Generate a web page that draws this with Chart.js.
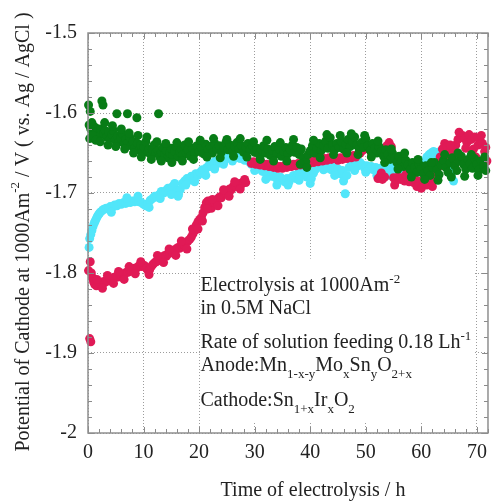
<!DOCTYPE html>
<html>
<head>
<meta charset="utf-8">
<script src="https://cdn.jsdelivr.net/npm/chart.js@4.4.1/dist/chart.umd.min.js"></script>
<style>
  html, body { margin: 0; padding: 0; background: #fff; }
  #wrap { width: 495px; height: 504px; }
</style>
</head>
<body>
<div id="wrap"><canvas id="cathode"></canvas></div>
<script>
// time (h) and potential (V vs Ag/AgCl)
const greenTime = [0.1,0.2,0.4,0.5,0.7,0.9,1.1,1.3,1.5,1.7,2.0,2.3,2.5,2.7,2.8,3.1,3.4,3.7,4.0,4.3,4.6,4.9,5.2,5.3,5.6,5.9,6.2,6.5,6.8,7.1,7.2,7.5,7.8,8.1,8.4,8.8,8.9,9.2,9.5,9.8,10.1,10.4,10.7,11.0,11.3,11.6,11.9,12.2,12.6,12.7,12.9,13.2,13.5,13.8,14.1,14.4,14.7,15.0,15.3,15.6,15.9,16.2,16.5,16.8,17.1,17.4,17.7,18.0,18.4,18.8,19.2,19.6,20.0,20.4,20.8,21.2,21.6,22.0,22.4,22.8,23.2,23.6,24.0,24.4,24.8,25.2,25.6,26.0,26.4,26.8,27.2,27.6,28.0,28.4,28.8,29.2,29.6,30.0,30.4,30.8,31.2,31.6,32.0,32.4,32.8,33.2,33.6,34.0,34.4,34.8,35.2,35.6,36.0,36.4,36.8,37.2,37.6,38.0,38.4,38.8,39.2,39.6,40.0,40.4,40.8,41.2,41.6,42.0,42.4,42.8,43.2,43.6,44.0,44.4,44.8,45.2,45.6,46.0,46.4,46.8,47.2,47.6,48.0,48.4,48.8,49.2,49.6,50.0,50.4,50.8,51.2,51.6,52.0,52.4,52.8,53.2,53.6,54.0,54.4,54.8,55.2,55.6,56.0,56.4,56.8,57.2,57.6,58.0,58.4,58.8,59.2,59.6,60.0,60.4,60.8,61.2,61.6,62.0,62.4,62.8,63.2,63.6,64.0,64.4,64.8,65.2,65.6,66.0,66.4,66.8,67.2,67.6,68.0,68.4,68.8,69.2,69.6,70.0,70.4,70.8,71.2,71.6];
const greenPotential = [-1.590,-1.615,-1.598,-1.620,-1.612,-1.622,-1.617,-1.625,-1.619,-1.623,-1.628,-1.620,-1.585,-1.590,-1.626,-1.622,-1.630,-1.624,-1.632,-1.627,-1.622,-1.634,-1.601,-1.629,-1.636,-1.631,-1.626,-1.638,-1.633,-1.601,-1.637,-1.630,-1.641,-1.636,-1.644,-1.606,-1.638,-1.646,-1.640,-1.648,-1.643,-1.636,-1.649,-1.645,-1.652,-1.646,-1.640,-1.650,-1.647,-1.601,-1.655,-1.649,-1.643,-1.652,-1.647,-1.656,-1.650,-1.644,-1.653,-1.648,-1.642,-1.655,-1.649,-1.645,-1.652,-1.640,-1.650,-1.646,-1.654,-1.644,-1.650,-1.641,-1.648,-1.643,-1.651,-1.639,-1.646,-1.642,-1.650,-1.638,-1.645,-1.641,-1.649,-1.643,-1.637,-1.646,-1.640,-1.648,-1.642,-1.637,-1.645,-1.641,-1.649,-1.643,-1.638,-1.646,-1.641,-1.649,-1.644,-1.652,-1.646,-1.641,-1.650,-1.645,-1.653,-1.647,-1.642,-1.651,-1.645,-1.654,-1.648,-1.643,-1.651,-1.646,-1.640,-1.649,-1.643,-1.652,-1.645,-1.656,-1.661,-1.652,-1.647,-1.641,-1.650,-1.644,-1.638,-1.647,-1.641,-1.635,-1.644,-1.631,-1.640,-1.646,-1.638,-1.643,-1.636,-1.645,-1.639,-1.633,-1.642,-1.636,-1.630,-1.640,-1.645,-1.637,-1.643,-1.632,-1.641,-1.647,-1.638,-1.644,-1.650,-1.642,-1.648,-1.654,-1.646,-1.652,-1.658,-1.650,-1.656,-1.662,-1.654,-1.661,-1.667,-1.659,-1.665,-1.671,-1.662,-1.668,-1.674,-1.664,-1.670,-1.676,-1.666,-1.672,-1.678,-1.668,-1.662,-1.671,-1.677,-1.665,-1.659,-1.668,-1.674,-1.662,-1.656,-1.666,-1.672,-1.660,-1.654,-1.664,-1.670,-1.658,-1.663,-1.669,-1.657,-1.664,-1.671,-1.660,-1.666,-1.672];
// points at the edges of the green band
const greenSpreadTime = [0.3,0.8,1.4,2.2,3.0,3.6,4.4,5.0,6.0,6.6,7.4,8.2,9.0,9.6,10.6,11.4,12.4,13.2,14.0,15.1,16.0,17.0,18.1,19.0,20.2,21.4,22.6,23.8,25.0,26.2,27.4,28.6,29.8,31.0,32.2,33.4,34.6,35.8,37.0,38.2,39.4,40.6,41.8,43.0,44.2,45.4,46.6,47.4,48.6,49.8,51.0,52.2,53.4,54.6,55.8,57.0,58.2,59.4,60.6,61.8,63.0,64.2,65.4,66.6,67.8,69.0,70.2,71.4];
const greenSpreadPotential = [-1.632,-1.628,-1.634,-1.636,-1.612,-1.640,-1.616,-1.642,-1.620,-1.645,-1.625,-1.650,-1.628,-1.655,-1.630,-1.658,-1.636,-1.660,-1.638,-1.662,-1.637,-1.660,-1.636,-1.658,-1.634,-1.655,-1.632,-1.656,-1.633,-1.654,-1.632,-1.655,-1.636,-1.658,-1.634,-1.660,-1.637,-1.660,-1.633,-1.664,-1.668,-1.634,-1.656,-1.627,-1.652,-1.628,-1.650,-1.626,-1.652,-1.628,-1.655,-1.635,-1.662,-1.645,-1.670,-1.650,-1.680,-1.658,-1.683,-1.662,-1.684,-1.652,-1.680,-1.650,-1.679,-1.652,-1.678,-1.655];

const cyanTime = [0.2,0.3,0.5,0.7,0.9,1.1,1.3,1.5,1.7,1.9,2.1,2.4,2.7,3.0,3.3,3.7,4.0,4.4,4.8,5.2,5.6,6.0,6.4,6.8,7.2,7.6,8.0,8.4,8.8,9.2,9.6,10.0,10.4,10.8,11.2,11.6,12.0,12.4,12.8,13.2,13.6,14.0,14.4,14.8,15.2,15.6,16.0,16.3,16.6,17.0,17.4,17.8,18.2,18.6,19.0,19.4,19.8,20.2,20.6,21.0,21.4,21.8,22.2,22.6,23.0,23.4,23.8,24.2,24.6,25.0,25.4,25.8,26.2,26.6,27.0,27.4,27.8,28.2,28.6,29.0,29.4,29.8,30.2,30.6,31.0,31.4,31.8,32.2,32.6,33.0,33.4,33.8,34.2,34.6,35.0,35.4,35.8,36.2,36.6,37.0,37.4,37.8,38.2,38.6,39.0,39.4,39.8,40.2,40.6,41.0,41.4,41.8,42.2,42.6,43.0,43.4,43.8,44.2,44.6,45.0,45.4,45.8,46.0,46.3,46.6,47.0,47.4,47.8,48.2,48.6,49.0,49.4,49.8,50.2,50.6,51.0,51.4,51.8,52.2,52.6,53.0,53.4,53.8,54.2,54.6,55.0,55.4,55.8,56.2,56.6,57.0,57.4,57.8,58.2,58.6,59.0,59.4,59.8,60.2,60.6,61.0,61.4,61.8,62.2,62.6,63.0,63.4,63.8,64.2,64.6,65.0,65.4,65.8];
const cyanPotential = [-1.768,-1.757,-1.752,-1.747,-1.742,-1.738,-1.735,-1.732,-1.729,-1.727,-1.725,-1.723,-1.721,-1.720,-1.719,-1.720,-1.717,-1.718,-1.715,-1.716,-1.713,-1.714,-1.712,-1.713,-1.711,-1.712,-1.710,-1.711,-1.709,-1.711,-1.712,-1.714,-1.716,-1.713,-1.709,-1.707,-1.704,-1.705,-1.702,-1.698,-1.700,-1.697,-1.694,-1.697,-1.692,-1.688,-1.697,-1.702,-1.696,-1.688,-1.685,-1.682,-1.684,-1.679,-1.681,-1.676,-1.678,-1.674,-1.671,-1.673,-1.668,-1.665,-1.667,-1.662,-1.660,-1.663,-1.658,-1.656,-1.659,-1.655,-1.653,-1.656,-1.652,-1.655,-1.653,-1.657,-1.655,-1.659,-1.657,-1.661,-1.664,-1.662,-1.667,-1.665,-1.670,-1.673,-1.671,-1.676,-1.674,-1.679,-1.677,-1.681,-1.684,-1.680,-1.683,-1.686,-1.682,-1.686,-1.681,-1.678,-1.682,-1.676,-1.679,-1.673,-1.676,-1.680,-1.677,-1.682,-1.675,-1.670,-1.666,-1.662,-1.660,-1.665,-1.669,-1.666,-1.671,-1.668,-1.673,-1.670,-1.676,-1.672,-1.685,-1.701,-1.678,-1.668,-1.664,-1.667,-1.663,-1.666,-1.662,-1.665,-1.669,-1.666,-1.670,-1.667,-1.671,-1.668,-1.672,-1.669,-1.673,-1.670,-1.674,-1.671,-1.668,-1.672,-1.669,-1.673,-1.670,-1.667,-1.671,-1.668,-1.672,-1.669,-1.673,-1.670,-1.674,-1.671,-1.666,-1.660,-1.655,-1.652,-1.650,-1.648,-1.651,-1.649,-1.653,-1.651,-1.656,-1.662,-1.670,-1.679,-1.685];
const cyanSpreadTime = [4.2,7.0,9.0,11.0,13.0,15.0,16.2,17.6,19.2,21.2,22.8,24.4,26.0,30.0,32.0,34.0,36.0,38.0,40.0,42.4,44.4,48.0,50.0,52.0,54.0,56.0,58.0,62.4,63.2];
const cyanSpreadPotential = [-1.724,-1.706,-1.704,-1.718,-1.707,-1.702,-1.704,-1.690,-1.686,-1.678,-1.670,-1.664,-1.660,-1.672,-1.683,-1.690,-1.690,-1.684,-1.688,-1.671,-1.678,-1.672,-1.674,-1.678,-1.678,-1.677,-1.677,-1.656,-1.658];

const redTime = [0.1,0.3,0.4,0.5,0.6,0.8,1.0,1.2,1.5,1.8,2.1,2.4,2.7,3.0,3.3,3.6,3.9,4.2,4.5,4.8,5.1,5.4,5.7,6.0,6.3,6.6,6.9,7.2,7.5,7.8,8.1,8.4,8.7,9.0,9.3,9.6,9.9,10.2,10.5,10.8,11.1,11.4,11.7,12.0,12.3,12.6,12.9,13.2,13.5,13.8,14.1,14.4,14.7,15.0,15.3,15.6,15.9,16.2,16.5,16.8,17.1,17.4,17.7,18.0,18.3,18.6,18.9,19.2,19.5,19.8,20.1,20.4,20.7,21.0,21.3,21.6,21.9,22.2,22.5,22.8,23.1,23.4,23.7,24.0,24.3,24.6,24.9,25.2,25.5,25.8,26.1,26.4,26.7,27.0,27.3,27.6,28.0,28.4,29.4,29.8,30.2,30.6,31.0,31.4,31.8,32.2,32.6,33.0,33.4,33.8,34.2,34.6,35.0,35.4,35.8,36.2,36.6,37.0,37.4,37.8,38.2,38.6,39.0,39.4,39.8,40.2,40.6,41.0,41.4,41.8,42.2,42.6,43.0,43.4,43.8,44.2,44.6,45.0,45.4,45.8,46.2,46.6,47.0,47.4,47.8,48.2,48.6,49.0,49.4,49.8,50.2,50.6,51.0,51.4,51.8,52.2,52.6,53.0,53.4,53.8,54.2,54.6,55.0,55.4,55.8,56.2,56.6,57.0,57.4,57.8,58.2,58.6,59.0,59.4,59.8,60.2,60.6,61.0,61.4,61.8,62.2,62.6,63.0,63.4,63.8,64.2,64.6,65.0,65.4,65.8,66.2,66.6,67.0,67.4,67.8,68.2,68.6,69.0,69.4,69.8,70.2,70.6,71.0,71.4,71.8];
const redPotential = [-1.797,-1.882,-1.786,-1.886,-1.800,-1.806,-1.811,-1.814,-1.816,-1.815,-1.813,-1.814,-1.811,-1.812,-1.809,-1.810,-1.807,-1.808,-1.806,-1.806,-1.804,-1.805,-1.802,-1.803,-1.801,-1.801,-1.799,-1.799,-1.797,-1.797,-1.795,-1.794,-1.794,-1.792,-1.791,-1.792,-1.790,-1.791,-1.794,-1.797,-1.796,-1.792,-1.789,-1.787,-1.786,-1.783,-1.784,-1.781,-1.780,-1.778,-1.779,-1.776,-1.775,-1.773,-1.774,-1.771,-1.770,-1.768,-1.769,-1.766,-1.764,-1.765,-1.762,-1.760,-1.758,-1.755,-1.751,-1.747,-1.740,-1.736,-1.733,-1.731,-1.725,-1.718,-1.712,-1.710,-1.714,-1.719,-1.716,-1.712,-1.710,-1.707,-1.705,-1.706,-1.702,-1.700,-1.701,-1.697,-1.695,-1.696,-1.692,-1.691,-1.692,-1.689,-1.688,-1.689,-1.686,-1.687,-1.663,-1.661,-1.664,-1.662,-1.665,-1.663,-1.666,-1.664,-1.667,-1.665,-1.668,-1.666,-1.669,-1.667,-1.669,-1.666,-1.668,-1.665,-1.667,-1.664,-1.666,-1.663,-1.665,-1.662,-1.664,-1.661,-1.663,-1.660,-1.662,-1.659,-1.661,-1.658,-1.660,-1.657,-1.659,-1.656,-1.658,-1.655,-1.657,-1.659,-1.656,-1.658,-1.655,-1.657,-1.654,-1.656,-1.653,-1.655,-1.652,-1.650,-1.647,-1.644,-1.640,-1.645,-1.650,-1.645,-1.639,-1.682,-1.679,-1.683,-1.680,-1.641,-1.637,-1.642,-1.681,-1.684,-1.680,-1.683,-1.681,-1.685,-1.682,-1.686,-1.683,-1.687,-1.684,-1.688,-1.685,-1.689,-1.686,-1.690,-1.687,-1.684,-1.680,-1.676,-1.668,-1.655,-1.645,-1.638,-1.642,-1.650,-1.657,-1.648,-1.640,-1.633,-1.630,-1.628,-1.632,-1.637,-1.627,-1.633,-1.645,-1.655,-1.640,-1.635,-1.638,-1.648,-1.660];
const redSpreadTime = [1.6,2.6,3.5,4.6,5.5,6.5,7.4,8.5,9.5,11.0,12.5,13.6,14.6,15.8,16.8,17.8,18.8,19.8,20.6,21.5,22.4,23.4,24.4,25.4,26.4,27.4,28.2,52.8,55.2,57.2,59.2,60.0,61.2,62.0,63.6,65.2,66.8,68.0,69.6,70.8,71.6];
const redSpreadPotential = [-1.808,-1.819,-1.803,-1.813,-1.798,-1.808,-1.792,-1.801,-1.786,-1.802,-1.778,-1.787,-1.770,-1.778,-1.760,-1.770,-1.745,-1.745,-1.735,-1.720,-1.708,-1.716,-1.696,-1.704,-1.686,-1.695,-1.683,-1.675,-1.690,-1.677,-1.692,-1.694,-1.680,-1.692,-1.664,-1.640,-1.624,-1.644,-1.630,-1.628,-1.643];

const xTicks = [0, 10, 20, 30, 40, 50, 60, 70];
const yTicks = [-2, -1.9, -1.8, -1.7, -1.6, -1.5];

const serif = '"Liberation Serif", "Times New Roman", serif';
const textCol = '#222';

function pts(t, v) { return t.map((x, i) => ({ x: x, y: v[i] })); }

function richText(ctx, x, y, parts, size) {
  for (const [txt, mode] of parts) {
    const fs = mode === 'n' ? size : Math.round(size * 0.66);
    ctx.font = fs + 'px ' + serif;
    let dy = 0;
    if (mode === 'sub') dy = size * 0.36;
    if (mode === 'sup') dy = -size * 0.4;
    ctx.fillText(txt, x, y + dy);
    x += ctx.measureText(txt).width;
  }
}
function richWidth(ctx, parts, size) {
  let w = 0;
  for (const [txt, mode] of parts) {
    const fs = mode === 'n' ? size : Math.round(size * 0.66);
    ctx.font = fs + 'px ' + serif;
    w += ctx.measureText(txt).width;
  }
  return w;
}

const frame = {
  id: 'frame',
  beforeDatasetsDraw(chart) {
    const ctx = chart.ctx, xs = chart.scales.x, ys = chart.scales.y;
    // box with the test conditions
    const bx0 = xs.getPixelForValue(20.15), bx1 = xs.getPixelForValue(69.6);
    const by0 = ys.getPixelForValue(-1.782), by1 = ys.getPixelForValue(-1.985);
    ctx.save();
    ctx.fillStyle = '#fff';
    ctx.fillRect(bx0, by0, bx1 - bx0, by1 - by0);
    ctx.fillStyle = textCol;
    ctx.textBaseline = 'alphabetic';
    ctx.textAlign = 'left';
    const tx = bx0 + 0.5, fs = 20;
    richText(ctx, tx, by0 + 32, [['Electrolysis at 1000Am', 'n'], ['-2', 'sup']], fs);
    richText(ctx, tx, by0 + 55, [['in 0.5M NaCl', 'n']], fs);
    richText(ctx, tx, by0 + 89, [['Rate of solution feeding 0.18 Lh', 'n'], ['-1', 'sup']], fs);
    richText(ctx, tx, by0 + 112, [['Anode:Mn', 'n'], ['1-x-y', 'sub'], ['Mo', 'n'], ['x', 'sub'], ['Sn', 'n'], ['y', 'sub'], ['O', 'n'], ['2+x', 'sub']], fs);
    richText(ctx, tx, by0 + 147, [['Cathode:Sn', 'n'], ['1+x', 'sub'], ['Ir', 'n'], ['x', 'sub'], ['O', 'n'], ['2', 'sub']], fs);
    ctx.restore();
  },
  afterDraw(chart) {
    const ctx = chart.ctx, a = chart.chartArea, xs = chart.scales.x, ys = chart.scales.y;
    ctx.save();
    // inside tick marks on all four sides
    ctx.strokeStyle = '#8a8a8a';
    ctx.lineWidth = 1;
    ctx.beginPath();
    for (let v = 0; v <= 72; v += 2) {
      const px = Math.round(xs.getPixelForValue(v)) + 0.5;
      const len = v % 10 === 0 ? 6 : 4;
      ctx.moveTo(px, a.bottom); ctx.lineTo(px, a.bottom - len);
      ctx.moveTo(px, a.top); ctx.lineTo(px, a.top + len);
    }
    for (let k = 0; k <= 25; k++) {
      const py = Math.round(ys.getPixelForValue(-2 + k * 0.02)) + 0.5;
      const len = k % 5 === 0 ? 6 : 4;
      ctx.moveTo(a.left, py); ctx.lineTo(a.left + len, py);
      ctx.moveTo(a.right, py); ctx.lineTo(a.right - len, py);
    }
    ctx.stroke();
    // plot frame
    ctx.strokeStyle = '#8f8f8f';
    ctx.lineWidth = 1.5;
    ctx.strokeRect(a.left, a.top, a.right - a.left, a.bottom - a.top);

    // axis titles
    ctx.fillStyle = textCol;
    ctx.textBaseline = 'middle';
    ctx.textAlign = 'left';
    const xt = [['Time of electrolysis / h', 'n']];
    const wx = richWidth(ctx, xt, 20);
    richText(ctx, 313 - wx / 2, 491, xt, 20);

    const yt = [['Potential of Cathode at 1000Am', 'n'], ['-2', 'sup'], [' / V ( vs. Ag / AgCl )', 'n']];
    const wy = richWidth(ctx, yt, 20);
    ctx.translate(24, 232);
    ctx.rotate(-Math.PI / 2);
    richText(ctx, -wy / 2, 0, yt, 20);
    ctx.restore();
  }
};

const ptStyle = (c) => ({
  pointRadius: 4.5, pointHoverRadius: 4.5, pointBorderWidth: 0,
  backgroundColor: c, borderColor: c, showLine: false, clip: 8
});

new Chart(document.getElementById('cathode'), {
  type: 'scatter',
  data: {
    datasets: [
      Object.assign({ label: 'green', order: 0,
        data: pts(greenTime, greenPotential).concat(pts(greenSpreadTime, greenSpreadPotential)) }, ptStyle('rgb(8,124,22)')),
      Object.assign({ label: 'red', order: 1,
        data: pts(redTime, redPotential).concat(pts(redSpreadTime, redSpreadPotential)) }, ptStyle('rgb(224,26,86)')),
      Object.assign({ label: 'cyan', order: 2,
        data: pts(cyanTime, cyanPotential).concat(pts(cyanSpreadTime, cyanSpreadPotential)) }, ptStyle('rgb(82,230,250)'))
    ]
  },
  options: {
    responsive: true,
    maintainAspectRatio: false,
    animation: false,
    events: [],
    layout: { padding: { left: 0, top: 33, right: 4, bottom: 0 } },
    plugins: { legend: { display: false }, tooltip: { enabled: false } },
    scales: {
      x: {
        type: 'linear', min: 0, max: 72,
        afterFit: (s) => { s.height = 71; },
        afterBuildTicks: (s) => { s.ticks = xTicks.map(v => ({ value: v })); },
        ticks: { padding: 8, color: textCol, font: { family: serif, size: 20 }, maxRotation: 0,
          callback: (v) => String(v) },
        grid: { color: '#9c9c9c', lineWidth: 1, drawTicks: false },
        border: { display: false, dash: [1, 2] }
      },
      y: {
        type: 'linear', min: -2, max: -1.5,
        afterFit: (s) => { s.width = 88; },
        afterBuildTicks: (s) => { s.ticks = yTicks.map(v => ({ value: v })); },
        ticks: { padding: 11, color: textCol, font: { family: serif, size: 20 },
          callback: (v) => String(Number(v.toFixed(1))) },
        grid: { color: '#9c9c9c', lineWidth: 1, drawTicks: false },
        border: { display: false, dash: [1, 2] }
      }
    }
  },
  plugins: [frame]
});
</script>
</body>
</html>
